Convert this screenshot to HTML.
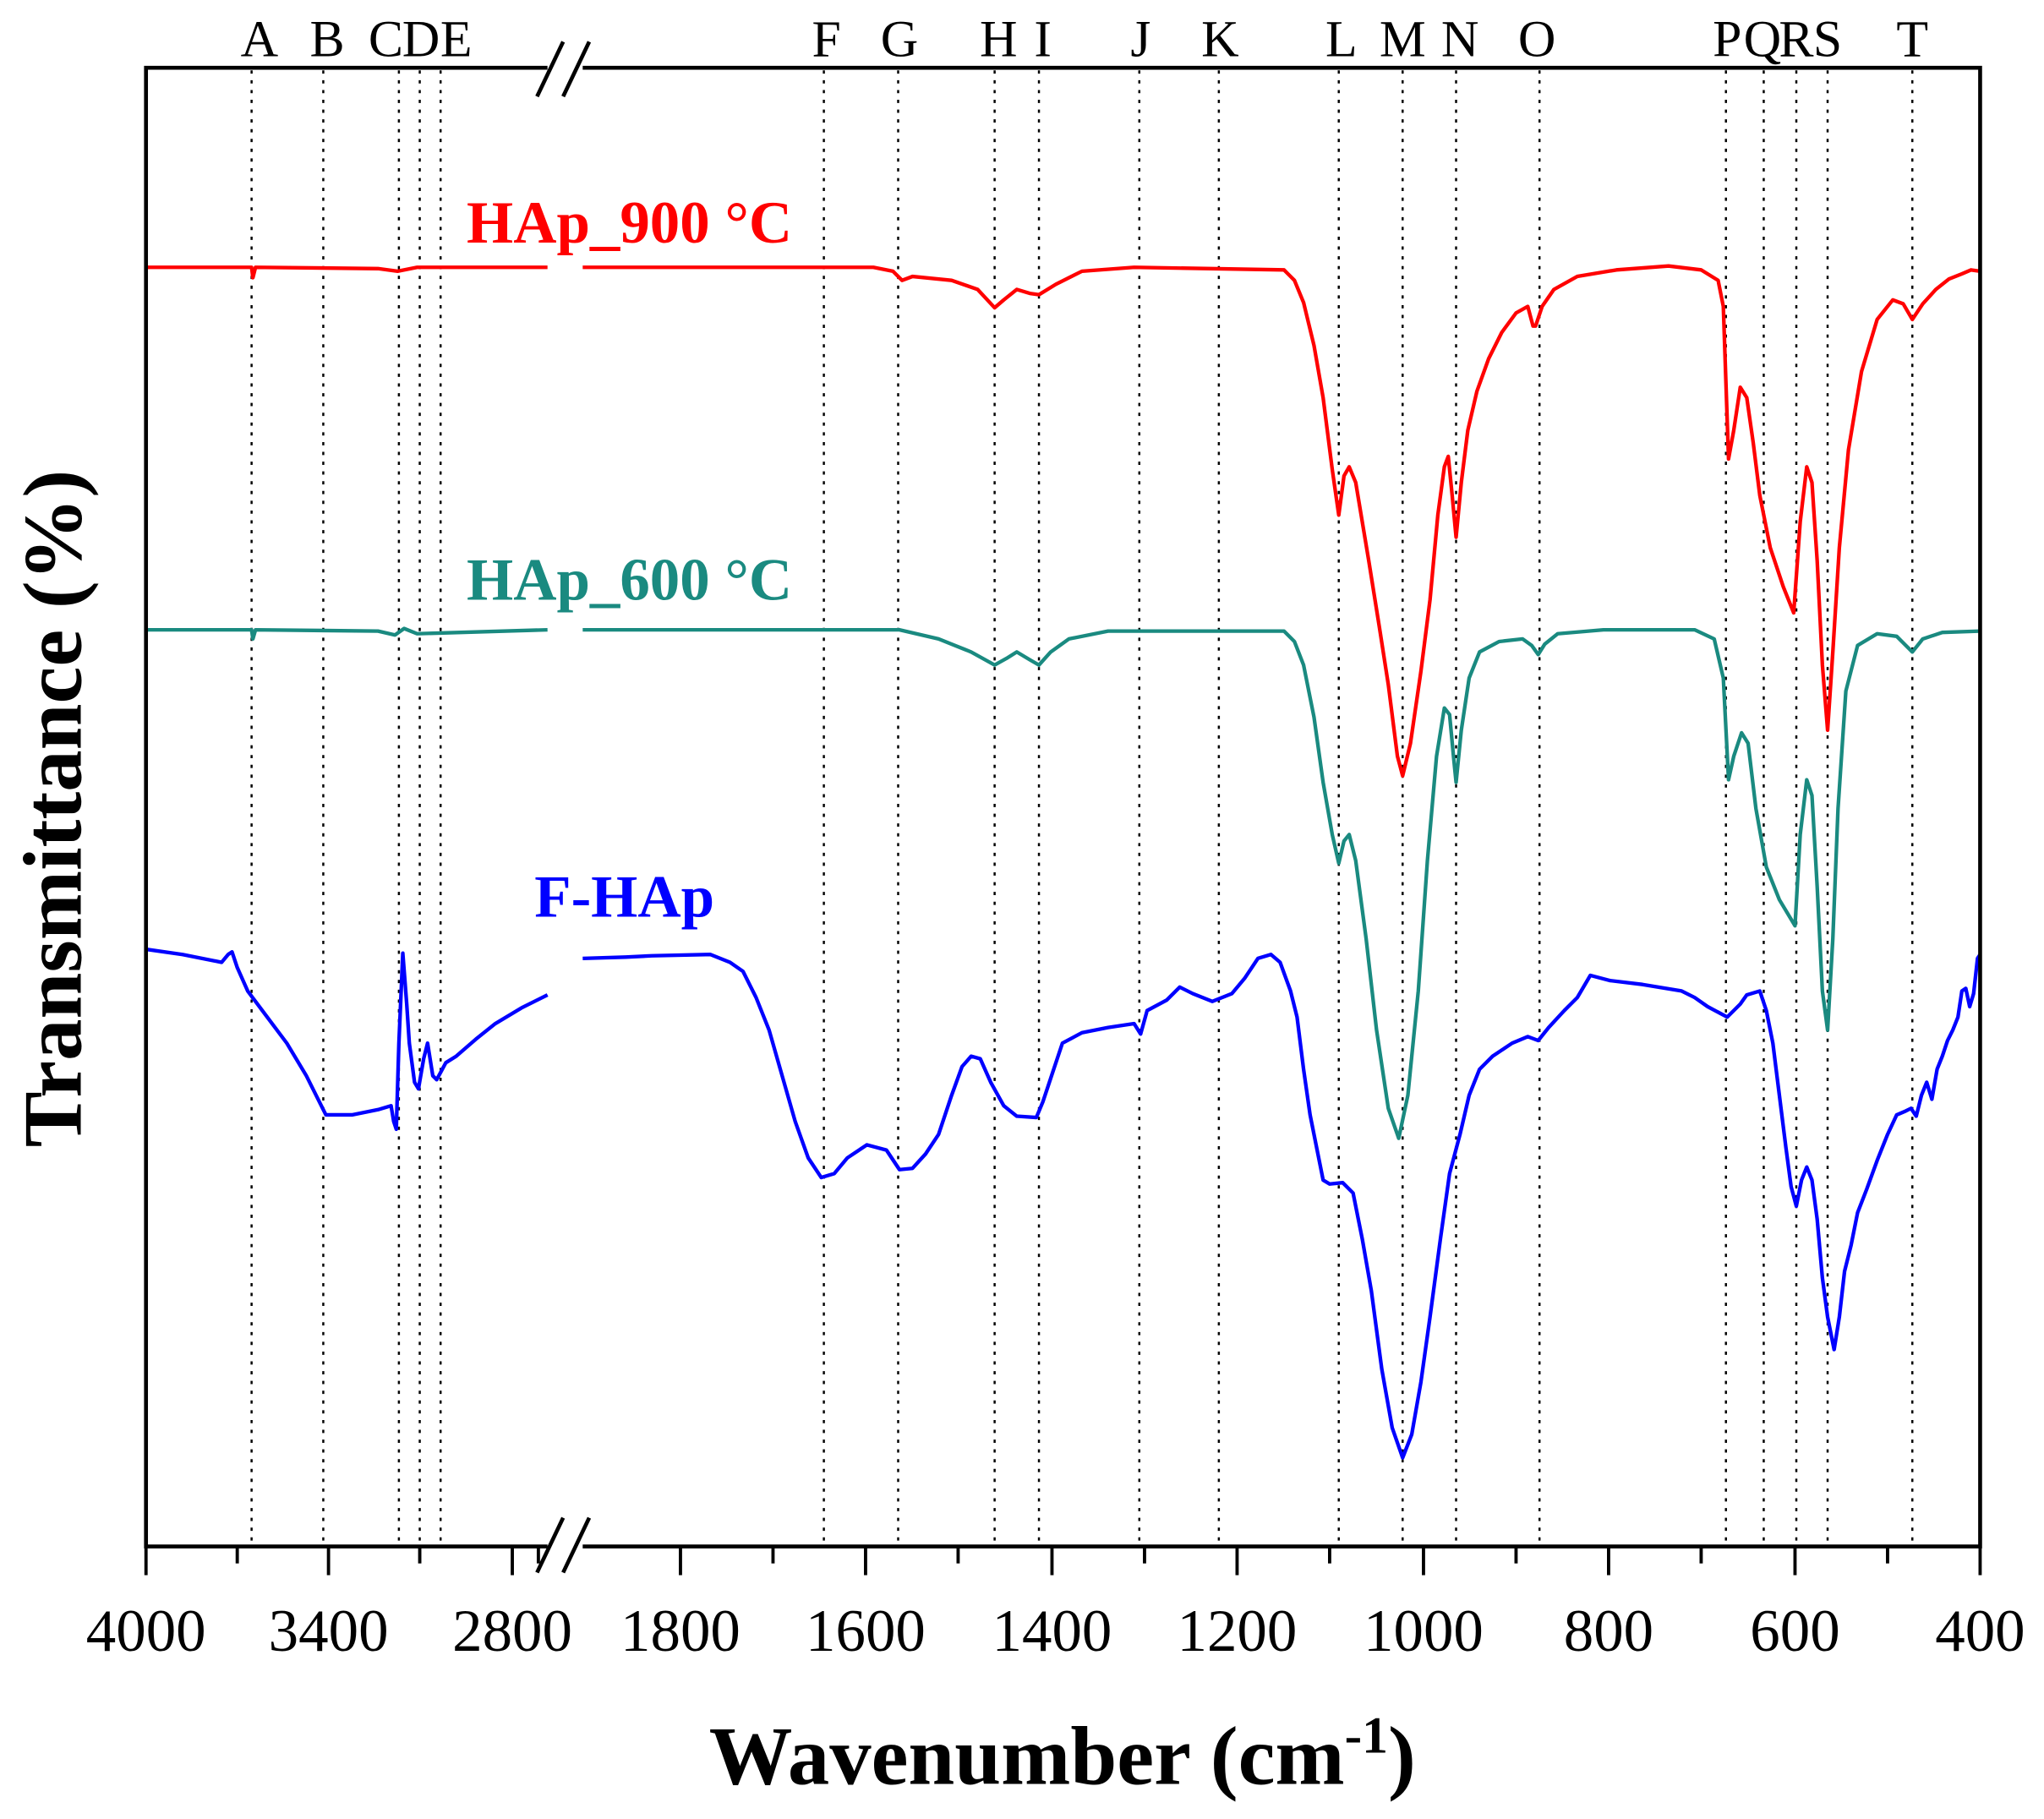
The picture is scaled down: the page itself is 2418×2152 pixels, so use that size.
<!DOCTYPE html>
<html><head><meta charset="utf-8"><style>html,body{margin:0;padding:0;background:#fff}svg{display:block}</style></head>
<body>
<svg width="2418" height="2152" viewBox="0 0 1568 1395" preserveAspectRatio="none" xmlns="http://www.w3.org/2000/svg" font-family="Liberation Serif, serif">
<rect width="1568" height="1395" fill="#fff"/>
<g stroke="#000" stroke-width="1.6" stroke-dasharray="2.5,5">
<line x1="193" y1="54" x2="193" y2="1185"/><line x1="248" y1="54" x2="248" y2="1185"/><line x1="306" y1="54" x2="306" y2="1185"/><line x1="322" y1="54" x2="322" y2="1185"/><line x1="338" y1="54" x2="338" y2="1185"/>
<line x1="632" y1="54" x2="632" y2="1185"/><line x1="689" y1="54" x2="689" y2="1185"/><line x1="763" y1="54" x2="763" y2="1185"/><line x1="797" y1="54" x2="797" y2="1185"/><line x1="874" y1="54" x2="874" y2="1185"/><line x1="935" y1="54" x2="935" y2="1185"/>
<line x1="1027" y1="54" x2="1027" y2="1185"/><line x1="1076" y1="54" x2="1076" y2="1185"/><line x1="1117" y1="54" x2="1117" y2="1185"/><line x1="1181" y1="54" x2="1181" y2="1185"/>
<line x1="1324" y1="54" x2="1324" y2="1185"/><line x1="1353" y1="54" x2="1353" y2="1185"/><line x1="1378" y1="54" x2="1378" y2="1185"/><line x1="1402" y1="54" x2="1402" y2="1185"/><line x1="1467" y1="54" x2="1467" y2="1185"/>
</g>
<g font-size="40" text-anchor="middle" fill="#000">
<text x="199" y="43">A</text><text x="251" y="43">B</text><text x="296" y="43">C</text><text x="323" y="43">D</text><text x="350" y="43">E</text>
<text x="634" y="43">F</text><text x="690" y="43">G</text><text x="766" y="43">H</text><text x="800" y="43">I</text><text x="875" y="43">J</text><text x="936" y="43">K</text>
<text x="1029" y="43">L</text><text x="1076" y="43">M</text><text x="1120" y="43">N</text><text x="1179" y="43">O</text>
<text x="1325" y="43">P</text><text x="1352" y="43">Q</text><text x="1378" y="43">R</text><text x="1402" y="43">S</text><text x="1467" y="43">T</text>
</g>
<g fill="none" stroke-width="2.8" stroke-linejoin="round">
<polyline stroke="#ff0000" points="112,205 185,205 193,205 194,213 196,205 290,206 305,208 320,205 420,205"/>
<polyline stroke="#ff0000" points="447,205 600,205 670,205 685,208 692,215 700,212 730,215 750,222 763,236 770,230 780,222 790,225 797,226 810,218 830,208 870,205 985,207 993,215 1000,232 1008,265 1015,305 1022,360 1027,395 1031,365 1035,358 1040,370 1050,430 1058,480 1065,525 1072,580 1076,595 1082,570 1090,515 1097,460 1103,395 1108,358 1111,350 1114,380 1117,412 1121,370 1126,330 1133,300 1142,275 1152,255 1163,240 1172,235 1176,250 1178,250 1183,235 1192,222 1210,212 1240,207 1280,204 1305,207 1318,215 1322,235 1326,352 1330,330 1335,297 1340,305 1345,340 1350,380 1358,420 1368,450 1376,470 1381,400 1386,358 1390,370 1394,430 1398,510 1402,560 1406,500 1411,420 1418,345 1428,285 1440,245 1452,230 1460,233 1467,245 1475,233 1485,222 1495,214 1505,210 1512,207 1519,208"/>
<polyline stroke="#1a8a80" points="112,483 185,483 193,483 194,490 196,483 290,484 303,487 310,482 320,486 420,483"/>
<polyline stroke="#1a8a80" points="447,483 600,483 690,483 720,490 745,500 763,510 772,505 780,500 790,506 797,510 806,500 820,490 850,484 985,484 993,492 1000,510 1008,550 1015,600 1022,640 1027,662 1031,645 1035,640 1040,660 1048,720 1056,790 1065,850 1073,873 1080,840 1088,760 1095,660 1102,580 1108,543 1112,548 1115,580 1117,600 1121,560 1127,520 1135,500 1150,492 1168,490 1175,495 1180,502 1185,494 1195,486 1230,483 1300,483 1315,490 1322,520 1326,598 1330,580 1336,562 1341,570 1347,620 1355,665 1365,690 1377,710 1381,640 1386,598 1390,610 1394,680 1398,760 1402,790 1406,720 1410,620 1416,530 1425,495 1440,486 1455,488 1467,500 1475,490 1490,485 1519,484"/>
<polyline stroke="#0000ff" points="112,728 140,732 170,738 175,732 178,730 182,742 190,760 205,780 220,800 235,825 250,855 270,855 290,851 300,848 302,860 304,866 306,800 309,731 312,770 314,800 318,830 321,835 325,812 328,800 332,825 335,828 342,815 350,810 365,797 380,785 400,773 420,763"/>
<polyline stroke="#0000ff" points="447,735 480,734 500,733 545,732 560,738 570,745 580,765 590,790 600,825 610,860 620,888 630,903 640,900 650,888 665,878 680,882 690,897 700,896 710,885 720,870 730,840 738,818 745,810 752,812 760,830 770,848 780,856 795,857 800,845 805,830 815,800 830,792 850,788 870,785 875,793 880,775 895,767 905,757 915,762 930,768 945,762 955,750 965,735 975,732 982,738 990,760 995,780 1000,820 1005,855 1010,880 1015,905 1020,908 1030,907 1038,915 1045,950 1052,990 1060,1050 1068,1095 1076,1118 1083,1100 1090,1060 1097,1010 1105,950 1112,900 1120,870 1127,840 1135,820 1145,810 1160,800 1172,795 1180,798 1188,788 1200,775 1210,765 1220,748 1235,752 1260,755 1290,760 1300,765 1310,772 1325,780 1335,770 1340,763 1350,760 1355,775 1360,800 1365,840 1370,880 1374,910 1378,925 1382,905 1386,895 1390,905 1394,935 1398,980 1402,1010 1407,1035 1411,1010 1415,975 1420,955 1425,930 1432,912 1440,890 1448,870 1455,855 1462,852 1466,850 1470,856 1474,840 1478,830 1482,843 1486,820 1490,810 1494,798 1498,790 1502,780 1505,760 1508,758 1511,772 1514,762 1517,735 1519,732"/>
</g>
<g font-weight="bold" font-size="46">
<text x="358" y="186" fill="#ff0000">HAp_900 °C</text>
<text x="358" y="460" fill="#1a8a80">HAp_600 °C</text>
<text x="410" y="703" fill="#0000ff">F-HAp</text>
</g>
<g stroke="#000" stroke-width="3" fill="none">
<polyline points="420,52 112,52 112,1186 420,1186"/>
<polyline points="447,52 1519,52 1519,1186 447,1186"/>
<g stroke-width="2.5">
<line x1="112" y1="1186" x2="112" y2="1208"/><line x1="252" y1="1186" x2="252" y2="1208"/><line x1="393" y1="1186" x2="393" y2="1208"/>
<line x1="182" y1="1186" x2="182" y2="1199"/><line x1="322" y1="1186" x2="322" y2="1199"/><line x1="413" y1="1186" x2="413" y2="1199"/>
<line x1="522" y1="1186" x2="522" y2="1208"/><line x1="664" y1="1186" x2="664" y2="1208"/><line x1="807" y1="1186" x2="807" y2="1208"/><line x1="949" y1="1186" x2="949" y2="1208"/><line x1="1092" y1="1186" x2="1092" y2="1208"/><line x1="1234" y1="1186" x2="1234" y2="1208"/><line x1="1377" y1="1186" x2="1377" y2="1208"/><line x1="1519" y1="1186" x2="1519" y2="1208"/>
<line x1="593" y1="1186" x2="593" y2="1199"/><line x1="735" y1="1186" x2="735" y2="1199"/><line x1="878" y1="1186" x2="878" y2="1199"/><line x1="1020" y1="1186" x2="1020" y2="1199"/><line x1="1163" y1="1186" x2="1163" y2="1199"/><line x1="1305" y1="1186" x2="1305" y2="1199"/><line x1="1448" y1="1186" x2="1448" y2="1199"/>
</g>
<line x1="412" y1="74" x2="432" y2="32"/><line x1="432" y1="74" x2="452" y2="32"/>
<line x1="412" y1="1206" x2="432" y2="1164"/><line x1="432" y1="1206" x2="452" y2="1164"/>
</g>
<g font-size="46" text-anchor="middle" fill="#000">
<text x="112" y="1266">4000</text><text x="252" y="1266">3400</text><text x="393" y="1266">2800</text>
<text x="522" y="1266">1800</text><text x="664" y="1266">1600</text><text x="807" y="1266">1400</text><text x="949" y="1266">1200</text><text x="1092" y="1266">1000</text><text x="1234" y="1266">800</text><text x="1377" y="1266">600</text><text x="1519" y="1266">400</text>
</g>
<text x="815" y="1368" font-size="64" font-weight="bold" text-anchor="middle">Wavenumber (cm<tspan dy="-24" font-size="40">-1</tspan><tspan dy="24">)</tspan></text>
<text transform="translate(62,620) rotate(-90)" font-size="64" font-weight="bold" text-anchor="middle">Transmittance (%)</text>
</svg>
</body></html>
